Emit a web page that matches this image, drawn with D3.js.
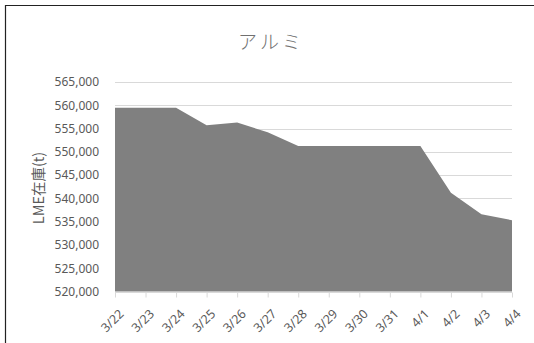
<!DOCTYPE html>
<html>
<head>
<meta charset="utf-8">
<script src="https://cdn.jsdelivr.net/npm/d3@7"></script>
<style>
  body { margin: 0; background: #fff; overflow: hidden; }
  svg { display: block; }
</style>
</head>
<body>
<div id="container"></div>
<script>
/* DATA */
const dates = ["3/22", "3/23", "3/24", "3/25", "3/26", "3/27", "3/28", "3/29", "3/30", "3/31", "4/1", "4/2", "4/3", "4/4"];
const stock = [559450, 559450, 559450, 555700, 556300, 554200, 551250, 551250, 551250, 551250, 551250, 541200, 536600, 535300];
const yTicks = [520000, 525000, 530000, 535000, 540000, 545000, 550000, 555000, 560000, 565000];

const width = 534, height = 343;
const margin = { top: 82, bottom: 51.5, left: 115, right: 22 };
const textColor = "#595959";
const font = "'Noto Sans', 'Noto Sans CJK JP', sans-serif";

const svg = d3.select("#container")
  .append("svg")
  .attr("width", width)
  .attr("height", height);

// chart area border (runs off the right and bottom edges)
svg.append("path")
  .attr("d", "M5.5,400V5.5H600")
  .attr("fill", "none")
  .attr("stroke", "#222")
  .attr("stroke-width", 1.2);

const xScale = d3.scalePoint()
  .domain(dates)
  .range([margin.left, width - margin.right]);

const yScale = d3.scaleLinear()
  .domain([520000, 565000])
  .range([height - margin.bottom, margin.top]);

// gridlines
svg.append("g")
  .selectAll("line")
  .data(yTicks.slice(1))
  .join("line")
  .attr("x1", margin.left)
  .attr("x2", width - margin.right)
  .attr("y1", d => Math.round(yScale(d)) + 0.5)
  .attr("y2", d => Math.round(yScale(d)) + 0.5)
  .attr("stroke", "#d9d9d9")
  .attr("stroke-width", 1);

// area
const area = d3.area()
  .x(d => xScale(d.date))
  .y0(yScale(520000))
  .y1(d => yScale(d.value));

svg.append("path")
  .datum(dates.map((d, i) => ({ date: d, value: stock[i] })))
  .attr("d", area)
  .attr("fill", "#808080");

// y axis labels
const yAxis = d3.axisLeft(yScale)
  .tickValues(yTicks)
  .tickSize(0)
  .tickPadding(16)
  .tickFormat(d3.format(","));

svg.append("g")
  .attr("transform", `translate(${margin.left}, 0)`)
  .call(yAxis)
  .call(g => g.select(".domain").remove())
  .call(g => g.selectAll("text")
    .attr("fill", textColor)
    .style("font-family", font)
    .style("font-size", "12px"));

// x axis
const xAxis = d3.axisBottom(xScale)
  .tickSize(5)
  .tickSizeOuter(0);

svg.append("g")
  .attr("transform", `translate(0, ${Math.round(yScale(520000)) + 0.5})`)
  .call(xAxis)
  .call(g => g.select(".domain").attr("stroke", "#d9d9d9").attr("d", `M${margin.left},0H${width - margin.right}`))
  .call(g => g.selectAll(".tick line").attr("stroke", "#d9d9d9"))
  .call(g => g.selectAll("text")
    .attr("fill", textColor)
    .style("font-family", font)
    .style("font-size", "12.5px")
    .attr("text-anchor", "end")
    .attr("y", 0)
    .attr("dy", "0.35em")
    .attr("transform", "translate(6, 19) rotate(-45)"));

// title
svg.append("text")
  .attr("x", 271)
  .attr("y", 49)
  .attr("text-anchor", "middle")
  .attr("fill", "#707070")
  .style("font-family", "'Noto Sans CJK JP', sans-serif")
  .style("font-weight", 300)
  .style("font-size", "19px")
  .style("letter-spacing", "3px")
  .text("アルミ");

// y axis title
svg.append("text")
  .attr("transform", "translate(44, 188) rotate(-90)")
  .attr("text-anchor", "middle")
  .attr("fill", textColor)
  .style("font-family", "'Noto Sans CJK JP', sans-serif")
  .style("font-size", "14.5px")
  .text("LME在庫(t)");
</script>
</body>
</html>
